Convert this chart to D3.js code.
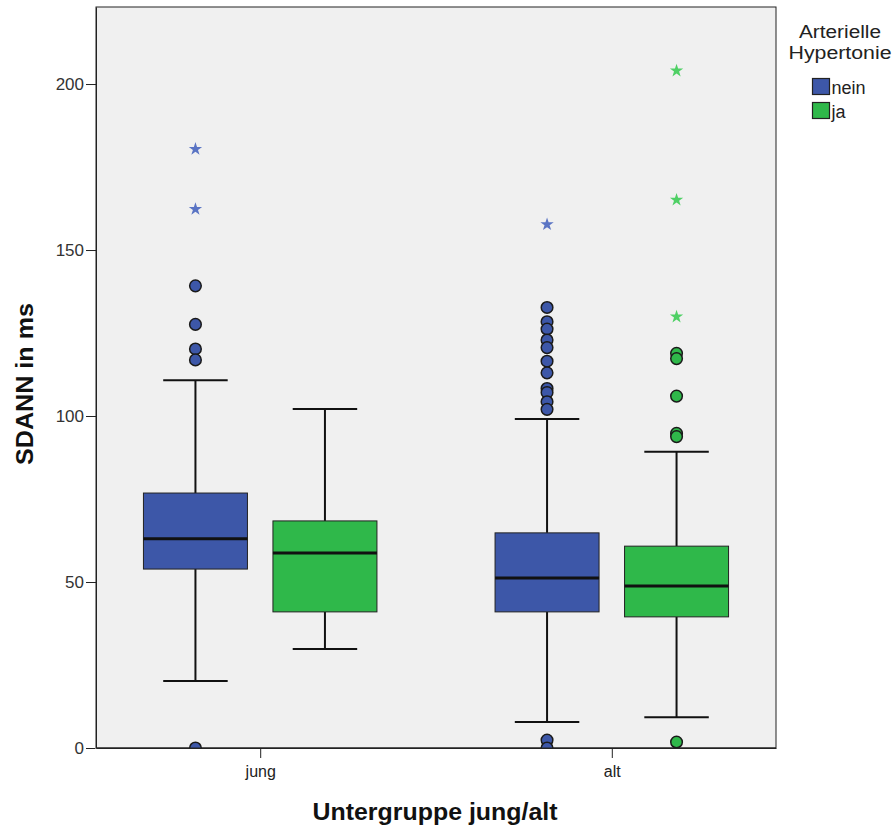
<!DOCTYPE html>
<html>
<head>
<meta charset="utf-8">
<script src="https://cdn.jsdelivr.net/npm/d3@7"></script>
<style>
  body { margin: 0; background: #fff; }
  text { font-family: "Liberation Sans", Arial, sans-serif; }
</style>
</head>
<body>
<script>
// ---------- data ----------
const groups = ["jung", "alt"];
const series = ["nein", "ja"];
// [group, series, whiskerLow, q1, median, q3, whiskerHigh]
const boxStats = [
  ["jung", "nein", 20.2, 53.9, 63.0, 76.8, 110.8],
  ["jung", "ja",   29.8, 41.0, 58.7, 68.4, 102.1],
  ["alt",  "nein",  7.8, 41.0, 51.2, 64.8,  99.1],
  ["alt",  "ja",    9.3, 39.5, 48.8, 60.8,  89.2]
];
// mild outliers (circles)
const outlierCircles = [
  ["jung", "nein", [139.2, 127.6, 120.2, 116.9, 0]],
  ["jung", "ja",   []],
  ["alt",  "nein", [132.7, 128.4, 126.2, 122.9, 120.6, 116.5, 113.0, 108.3, 107.1, 104.3, 102.0, 2.4, 0]],
  ["alt",  "ja",   [118.9, 117.3, 106.0, 94.8, 93.8, 1.8]]
];
// extreme outliers (stars)
const outlierStars = [
  ["jung", "nein", [180.4, 162.3]],
  ["jung", "ja",   []],
  ["alt",  "nein", [157.7]],
  ["alt",  "ja",   [204.0, 165.1, 129.9]]
];
const yTicks = [0, 50, 100, 150, 200];

// ---------- layout ----------
const width = 896, height = 827;
const plotLeft = 96, plotRight = 776, plotTop = 7, plotBottom = 748;

const fillColor = d3.scaleOrdinal().domain(series).range(["#3d57a8", "#2fb84a"]);
const starColor = d3.scaleOrdinal().domain(series).range(["#5a74c4", "#4fd065"]);

const svg = d3.select("body").append("svg")
  .attr("width", width)
  .attr("height", height);

const y = d3.scaleLinear().domain([0, 223.2]).range([plotBottom, plotTop]);
const x = d3.scalePoint().domain(groups).range([plotLeft, plotRight]).padding(0.467);
const sub = d3.scalePoint().domain(series).range([-64.75, 64.75]);
const boxW = 104;

// plot background
svg.append("rect")
  .attr("x", plotLeft).attr("y", plotTop)
  .attr("width", plotRight - plotLeft).attr("height", plotBottom - plotTop)
  .attr("fill", "#f0f0f0")
  .attr("stroke", "#222").attr("stroke-width", 1);

// axes
const yAxis = svg.append("g")
  .attr("transform", `translate(${plotLeft},0)`)
  .call(d3.axisLeft(y).tickValues(yTicks).tickSize(10).tickSizeOuter(0).tickPadding(2));
yAxis.select(".domain").attr("stroke", "#222");
yAxis.selectAll(".tick line").attr("stroke", "#222");
yAxis.selectAll(".tick text")
  .attr("font-family", "'Liberation Sans', Arial, sans-serif")
  .attr("font-size", 17).attr("fill", "#333");

const xAxis = svg.append("g")
  .attr("transform", `translate(0,${plotBottom})`)
  .call(d3.axisBottom(x).tickSize(10).tickSizeOuter(0).tickPadding(8));
xAxis.select(".domain").attr("stroke", "#222");
xAxis.selectAll(".tick line").attr("stroke", "#222");
xAxis.selectAll(".tick text")
  .attr("font-family", "'Liberation Sans', Arial, sans-serif")
  .attr("font-size", 16).attr("fill", "#222");

// axis titles
svg.append("text")
  .attr("x", (plotLeft + plotRight) / 2 - 1).attr("y", 820)
  .attr("text-anchor", "middle")
  .attr("font-weight", "bold").attr("font-size", 23).attr("fill", "#111")
  .attr("textLength", 245).attr("lengthAdjust", "spacingAndGlyphs")
  .text("Untergruppe jung/alt");

svg.append("text")
  .attr("transform", `translate(33,${384}) rotate(-90)`)
  .attr("text-anchor", "middle")
  .attr("font-weight", "bold").attr("font-size", 23).attr("fill", "#111")
  .attr("textLength", 162).attr("lengthAdjust", "spacingAndGlyphs")
  .text("SDANN in ms");

// boxes
const cx = (g, s) => x(g) + sub(s);
const boxes = svg.append("g").selectAll("g")
  .data(boxStats).enter().append("g");

// whiskers
boxes.append("line")
  .attr("x1", d => cx(d[0], d[1])).attr("x2", d => cx(d[0], d[1]))
  .attr("y1", d => y(d[2])).attr("y2", d => y(d[3]))
  .attr("stroke", "#111").attr("stroke-width", 2);
boxes.append("line")
  .attr("x1", d => cx(d[0], d[1])).attr("x2", d => cx(d[0], d[1]))
  .attr("y1", d => y(d[5])).attr("y2", d => y(d[6]))
  .attr("stroke", "#111").attr("stroke-width", 2);
[2, 6].forEach(function (k) {
  boxes.append("line")
    .attr("x1", d => cx(d[0], d[1]) - boxW * 0.31)
    .attr("x2", d => cx(d[0], d[1]) + boxW * 0.31)
    .attr("y1", d => y(d[k])).attr("y2", d => y(d[k]))
    .attr("stroke", "#111").attr("stroke-width", 2);
});
boxes.append("rect")
  .attr("x", d => cx(d[0], d[1]) - boxW / 2)
  .attr("width", boxW)
  .attr("y", d => y(d[5]))
  .attr("height", d => y(d[3]) - y(d[5]))
  .attr("fill", d => fillColor(d[1]))
  .attr("stroke", "#222").attr("stroke-width", 1);
boxes.append("line")
  .attr("x1", d => cx(d[0], d[1]) - boxW / 2)
  .attr("x2", d => cx(d[0], d[1]) + boxW / 2)
  .attr("y1", d => y(d[4])).attr("y2", d => y(d[4]))
  .attr("stroke", "#111").attr("stroke-width", 3);

// outlier circles
const circlePts = outlierCircles.flatMap(o => o[2].map(v => ({ g: o[0], s: o[1], v: v })));
svg.append("g").selectAll("circle")
  .data(circlePts).enter().append("circle")
  .attr("cx", d => cx(d.g, d.s))
  .attr("cy", d => y(d.v))
  .attr("r", 5.8)
  .attr("fill", d => fillColor(d.s))
  .attr("stroke", "#1a1a1a").attr("stroke-width", 1.5);

// cover the part of circles at 0 that falls below the frame
svg.append("rect")
  .attr("x", plotLeft - 1).attr("y", plotBottom + 0.5)
  .attr("width", plotRight - plotLeft + 2).attr("height", 8)
  .attr("fill", "#fff");
svg.append("line")
  .attr("x1", plotLeft).attr("x2", plotRight)
  .attr("y1", plotBottom).attr("y2", plotBottom)
  .attr("stroke", "#222");
xAxis.raise();

// outlier stars
const starPts = outlierStars.flatMap(o => o[2].map(v => ({ g: o[0], s: o[1], v: v })));
const star = d3.symbol().type(d3.symbolStar).size(55);
svg.append("g").selectAll("path")
  .data(starPts).enter().append("path")
  .attr("transform", d => `translate(${cx(d.g, d.s)},${y(d.v)})`)
  .attr("d", star)
  .attr("fill", d => starColor(d.s));

// legend
const legend = svg.append("g");
legend.selectAll("text.title")
  .data([["Arterielle", 38, 82], ["Hypertonie", 59, 103]]).enter().append("text")
  .attr("class", "title")
  .attr("x", 840).attr("y", d => d[1])
  .attr("text-anchor", "middle")
  .attr("font-size", 18).attr("fill", "#222")
  .attr("textLength", d => d[2]).attr("lengthAdjust", "spacingAndGlyphs")
  .text(d => d[0]);
const items = legend.selectAll("g.item")
  .data(series).enter().append("g")
  .attr("class", "item")
  .attr("transform", (d, i) => `translate(812.5,${78.5 + i * 24})`);
items.append("rect")
  .attr("width", 17).attr("height", 16)
  .attr("fill", d => fillColor(d))
  .attr("stroke", "#222").attr("stroke-width", 1.2);
items.append("text")
  .attr("x", 19).attr("y", 15)
  .attr("font-size", 18).attr("fill", "#222")
  .text(d => d);
</script>
</body>
</html>
